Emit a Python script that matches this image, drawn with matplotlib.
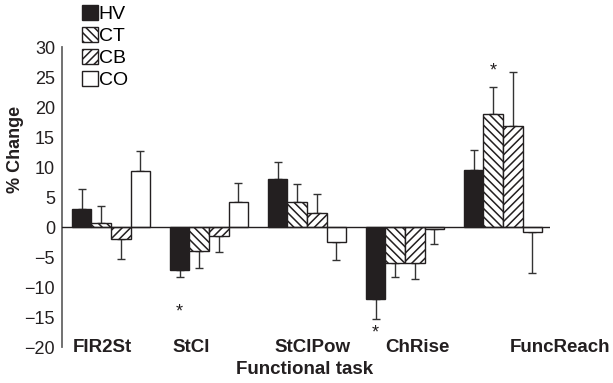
import numpy as np
import matplotlib
matplotlib.use("Agg")
import matplotlib.pyplot as plt

plt.rcParams['font.family'] = ['Liberation Sans', 'DejaVu Sans']
plt.rcParams['hatch.linewidth'] = 1.1

# Datos (% de cambio, media y error)
tasks = ['FIR2St', 'StCl', 'StClPow', 'ChRise', 'FuncReach']
groups = ['HV', 'CT', 'CB', 'CO']

hv = [3.0, -7.2, 8.0, -12.0, 9.5]
ct = [0.7, -4.0, 4.1, -6.0, 18.9]
cb = [-2.0, -1.5, 2.4, -6.0, 16.8]
co = [9.3, 4.2, -2.45, -0.3, -0.8]

hv_err = [3.4, 1.2, 2.9, 3.4, 3.4]
ct_err = [2.8, 2.8, 3.0, 2.4, 4.4]
cb_err = [3.4, 2.6, 3.15, 2.6, 9.1]
co_err = [3.4, 3.2, 3.1, 2.5, 6.8]

# Asteriscos de significación: (tarea, grupo, valor y)
stars = [(1, 0, -14.2), (3, 0, -17.7), (4, 1, 26.0)]

# Estilo
colors = ['#231f20', 'white', 'white', 'white']
hatches = [None, '\\\\\\\\', '////', None]
label_x = [-0.09, 0.82, 2.06, 3.13, 4.58]

fig = plt.figure(figsize=(6.13, 3.83), dpi=100)
ax = fig.add_axes([62/613, 1 - 347/383, (550 - 62)/613, 300/383])

x = np.arange(len(tasks))
width = 0.2
series = [hv, ct, cb, co]
errs = [hv_err, ct_err, cb_err, co_err]

for i, (vals, err) in enumerate(zip(series, errs)):
    vals = np.array(vals)
    err = np.array(err)
    pos = x - 0.3 + i * width
    lower = np.where(vals < 0, err, 0)
    upper = np.where(vals >= 0, err, 0)
    ax.bar(pos, vals, width, color=colors[i], edgecolor='#231f20',
           hatch=hatches[i], linewidth=1.0, label=groups[i], zorder=2)
    ax.errorbar(pos, vals, yerr=[lower, upper], fmt='none', ecolor='#333333',
                elinewidth=1.0, capsize=3, capthick=1.0, zorder=1)

for t, g, yv in stars:
    ax.text(x[t] - 0.3 + g * width, yv, '*', ha='center', va='center',
            fontsize=13, color='#231f20')

ax.axhline(0, color='#231f20', lw=1.0, zorder=3)

ax.set_xlim(-0.5, 4.48)
ax.set_ylim(-20, 30)
ax.set_yticks(np.arange(-20, 31, 5))
ax.tick_params(axis='y', length=0, pad=5, labelsize=13, labelcolor='#231f20')
ax.set_xticks([])
for s in ['top', 'right', 'bottom']:
    ax.spines[s].set_visible(False)
ax.spines['left'].set_color('#666666')
ax.spines['left'].set_linewidth(1.3)

for lx, name in zip(label_x, tasks):
    ax.text(lx, -20, name, ha='center', va='center', fontsize=13.5,
            fontweight='bold', color='#231f20')

ax.set_ylabel('% Change', fontsize=13, fontweight='bold', color='#231f20')
ax.yaxis.set_label_coords(-0.078, 0.66)
fig.text(305/613, 1 - 370/383, 'Functional task', ha='center', va='center',
         fontsize=13.5, fontweight='bold', color='#231f20')

fig.legend(loc='upper left', bbox_to_anchor=(82/613, 1 - 5/383), frameon=False,
           fontsize=14, handlelength=0.8, handleheight=0.8,
           handletextpad=0.05, labelspacing=0.2, borderpad=0, borderaxespad=0)

fig.savefig('out.png', dpi=100)
